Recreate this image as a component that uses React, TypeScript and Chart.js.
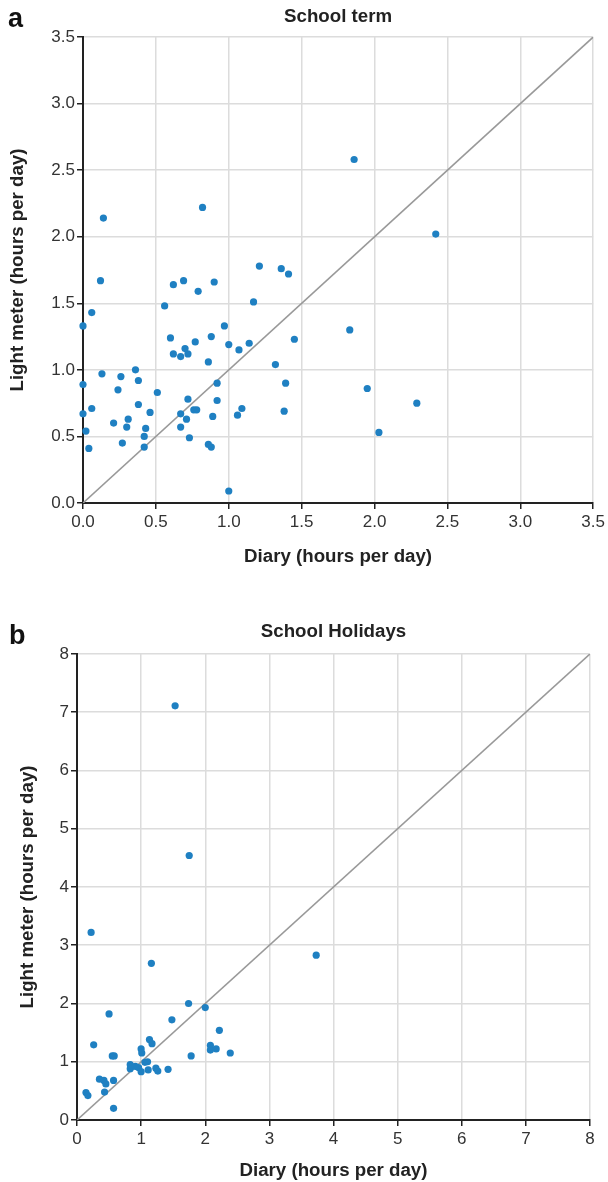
import React, { useEffect, useRef } from 'react';
import { Chart, registerables } from 'chart.js';

Chart.register(...registerables);

// Panel a — School term
const termDiary = [
  0.0, 0.0, 0.0, 0.02, 0.04, 0.06, 0.06, 0.12, 0.14, 0.13,
  0.21, 0.24, 0.26, 0.27, 0.3, 0.31, 0.36, 0.38, 0.38, 0.42,
  0.42, 0.43, 0.46, 0.51, 0.56, 0.6, 0.62, 0.62, 0.67, 0.67,
  0.67, 0.69, 0.7, 0.71, 0.72, 0.72, 0.73, 0.77, 0.76, 0.78,
  0.79, 0.82, 0.86, 0.86, 0.88, 0.88, 0.89, 0.9, 0.92, 0.92,
  0.97, 1.0, 1.0, 1.07, 1.06, 1.09, 1.14, 1.17, 1.21, 1.32,
  1.36, 1.38, 1.39, 1.41, 1.45, 1.83, 1.86, 1.95, 2.03, 2.29,
  2.42,
];
const termLight = [
  1.33, 0.89, 0.67, 0.54, 0.41, 0.71, 1.43, 1.67, 2.14, 0.97,
  0.6, 0.85, 0.95, 0.45, 0.57, 0.63, 1.0, 0.92, 0.74, 0.42,
  0.5, 0.56, 0.68, 0.83, 1.48, 1.24, 1.64, 1.12, 1.1, 0.67,
  0.57, 1.67, 1.16, 0.63, 1.12, 0.78, 0.49, 1.21, 0.7, 0.7,
  1.59, 2.22, 0.44, 1.06, 1.25, 0.42, 0.65, 1.66, 0.9, 0.77,
  1.33, 1.19, 0.09, 1.15, 0.66, 0.71, 1.2, 1.51, 1.78, 1.04,
  1.76, 0.69, 0.9, 1.72, 1.23, 1.3, 2.58, 0.86, 0.53, 0.75,
  2.02,
];
const termTickLabels = ['0.0', '0.5', '1.0', '1.5', '2.0', '2.5', '3.0', '3.5'];

// Panel b — School holidays
const holDiary = [
  1.53, 1.75, 0.22, 1.16, 3.73, 1.74, 2.0, 0.5, 1.48, 2.22,
  0.26, 1.13, 1.17, 1.0, 1.01, 2.08, 2.08, 2.17, 2.39, 1.78,
  0.55, 0.58, 0.83, 0.83, 0.91, 0.96, 1.0, 1.06, 1.1, 1.11,
  1.23, 1.26, 1.42, 0.35, 0.42, 0.45, 0.57, 0.43, 0.14, 0.17,
  0.57,
];
const holLight = [
  7.11, 4.54, 3.22, 2.69, 2.83, 2.0, 1.93, 1.82, 1.72, 1.54,
  1.29, 1.38, 1.31, 1.22, 1.15, 1.28, 1.2, 1.22, 1.15, 1.1,
  1.1, 1.1, 0.95, 0.88, 0.92, 0.9, 0.83, 0.99, 1.0, 0.86,
  0.89, 0.84, 0.87, 0.7, 0.68, 0.62, 0.68, 0.48, 0.47, 0.42,
  0.2,
];
const holTickLabels = ['0', '1', '2', '3', '4', '5', '6', '7', '8'];

const FONT = '"Liberation Sans", Arial, Helvetica, sans-serif';
const DOT = '#1f80c2';
const GRID = '#dcdcdc';
const AXIS = '#222222';
const TITLE_SIZE = 18.7;

type PanelOpts = {
  letter: string;
  letterX: number;
  letterY: number;
  title: string;
  titlePadTop: number;
  titlePadBottom: number;
  xs: number[];
  ys: number[];
  max: number;
  step: number;
  tickLabels: string[];
  yWidth: number;
  xHeight: number;
  padRight: number;
  xTitlePadBottom: number;
  yTitlePad: number;
};

function makeConfig(o: PanelOpts): any {
  const pts = o.xs.map((x, i) => ({ x, y: o.ys[i] }));
  const letterPlugin = {
    id: 'panelLetter',
    afterDraw(chart: any) {
      const ctx = chart.ctx;
      ctx.save();
      ctx.font = `bold 27px ${FONT}`;
      ctx.fillStyle = '#111';
      ctx.textBaseline = 'alphabetic';
      ctx.textAlign = 'left';
      ctx.fillText(o.letter, o.letterX, o.letterY);
      ctx.restore();
    },
  };
  const tickCb = (v: any) => {
    const idx = Math.round(Number(v) / o.step);
    return o.tickLabels[idx] ?? '';
  };
  const gridOpts = {
    color: GRID,
    lineWidth: 1.5,
    tickColor: AXIS,
    tickLength: 6,
    tickWidth: 1.5,
  };
  const tickFont = { family: FONT, size: 17 };
  const titleFont = { family: FONT, size: TITLE_SIZE, weight: 'bold' };
  return {
    type: 'scatter',
    data: {
      datasets: [
        {
          data: pts,
          backgroundColor: DOT,
          borderColor: DOT,
          borderWidth: 0,
          pointRadius: 3.6,
          pointHoverRadius: 3.6,
          clip: false,
        },
        {
          data: [
            { x: 0, y: 0 },
            { x: o.max, y: o.max },
          ],
          showLine: true,
          borderColor: '#999999',
          borderWidth: 1.6,
          pointRadius: 0,
          fill: false,
        },
      ],
    },
    options: {
      responsive: false,
      animation: false,
      layout: { padding: { left: 0, right: o.padRight, top: 0, bottom: 0 } },
      plugins: {
        legend: { display: false },
        tooltip: { enabled: false },
        title: {
          display: true,
          text: o.title,
          fullSize: false,
          color: '#222',
          font: titleFont,
          padding: { top: o.titlePadTop, bottom: o.titlePadBottom },
        },
      },
      scales: {
        x: {
          type: 'linear',
          min: 0,
          max: o.max,
          position: 'bottom',
          ticks: { stepSize: o.step, callback: tickCb, color: '#333', font: tickFont, padding: 3 },
          grid: gridOpts,
          border: { color: AXIS, width: 2 },
          afterFit: (s: any) => {
            s.height = o.xHeight;
          },
          title: {
            display: true,
            text: 'Diary (hours per day)',
            color: '#222',
            font: titleFont,
            padding: { top: 0, bottom: o.xTitlePadBottom },
          },
        },
        y: {
          type: 'linear',
          min: 0,
          max: o.max,
          position: 'left',
          ticks: { stepSize: o.step, callback: tickCb, color: '#333', font: tickFont, padding: 2 },
          grid: gridOpts,
          border: { color: AXIS, width: 2 },
          afterFit: (s: any) => {
            s.width = o.yWidth;
          },
          title: {
            display: true,
            text: 'Light meter (hours per day)',
            color: '#222',
            font: titleFont,
            padding: { top: o.yTitlePad, bottom: 0 },
          },
        },
      },
    },
    plugins: [letterPlugin],
  };
}

function Panel({ top, height, opts }: { top: number; height: number; opts: PanelOpts }) {
  const ref = useRef<HTMLCanvasElement | null>(null);
  useEffect(() => {
    if (!ref.current) return;
    const chart = new Chart(ref.current, makeConfig(opts));
    return () => chart.destroy();
  }, []);
  return (
    <canvas
      ref={ref}
      width={608}
      height={height}
      style={{ position: 'absolute', left: 0, top, width: 608, height }}
    />
  );
}

export default function App() {
  const a: PanelOpts = {
    letter: 'a',
    letterX: 8,
    letterY: 27,
    title: 'School term',
    titlePadTop: 6,
    titlePadBottom: 8.6,
    xs: termDiary,
    ys: termLight,
    max: 3.5,
    step: 0.5,
    tickLabels: termTickLabels,
    yWidth: 83,
    xHeight: 77,
    padRight: 12,
    xTitlePadBottom: 12,
    yTitlePad: 7,
  };
  const b: PanelOpts = {
    letter: 'b',
    letterX: 9,
    letterY: 44,
    title: 'School Holidays',
    titlePadTop: 20.5,
    titlePadBottom: 11,
    xs: holDiary,
    ys: holLight,
    max: 8,
    step: 1,
    tickLabels: holTickLabels,
    yWidth: 77,
    xHeight: 62,
    padRight: 18,
    xTitlePadBottom: 0,
    yTitlePad: 17,
  };
  return (
    <div style={{ position: 'absolute', left: 0, top: 0, width: 608, height: 1182, background: '#fff' }}>
      <Panel top={0} height={580} opts={a} />
      <Panel top={600} height={582} opts={b} />
    </div>
  );
}
